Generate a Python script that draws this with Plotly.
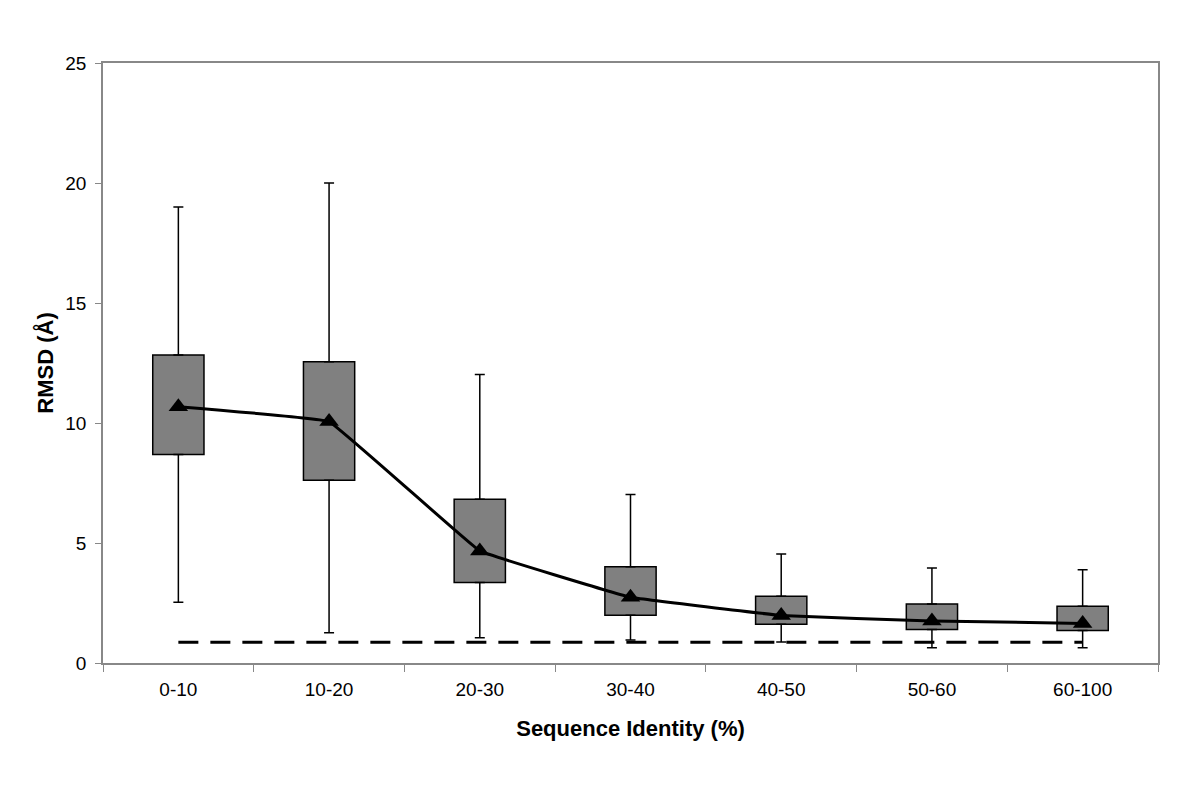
import plotly.graph_objects as go

categories = ["0-10", "10-20", "20-30", "30-40", "40-50", "50-60", "60-100"]
whisker_high = [19.0, 20.0, 12.02, 7.02, 4.54, 3.96, 3.89]
box_high = [12.83, 12.55, 6.82, 4.01, 2.78, 2.46, 2.36]
box_low = [8.69, 7.61, 3.35, 1.99, 1.61, 1.40, 1.35]
whisker_low = [2.53, 1.26, 1.05, 0.96, 0.875, 0.64, 0.64]
mean_rmsd = [10.68, 10.06, 4.67, 2.74, 1.98, 1.75, 1.65]
baseline_rmsd = 0.86

y_ticks = [0, 5, 10, 15, 20, 25]

font_family = "Liberation Sans, Arial, sans-serif"

fig = go.Figure()

# Boxes (open-close style) with upper whisker as error bar
fig.add_trace(go.Bar(
    x=categories,
    base=box_low,
    y=[h - l for h, l in zip(box_high, box_low)],
    width=0.34,
    marker=dict(color="#808080", line=dict(color="black", width=1.5)),
    error_y=dict(type="data", symmetric=False,
                 array=[w - h for w, h in zip(whisker_high, box_high)],
                 arrayminus=[0] * len(categories),
                 color="black", thickness=1.5, width=5),
    showlegend=False, hoverinfo="skip",
))

# Lower whiskers
fig.add_trace(go.Scatter(
    x=categories, y=box_low, mode="markers",
    marker=dict(size=1, color="rgba(0,0,0,0)"),
    error_y=dict(type="data", symmetric=False,
                 array=[0] * len(categories),
                 arrayminus=[b - w for b, w in zip(box_low, whisker_low)],
                 color="black", thickness=1.5, width=5),
    showlegend=False, hoverinfo="skip",
))

# Dashed baseline
fig.add_trace(go.Scatter(
    x=[categories[0], categories[-1]], y=[baseline_rmsd, baseline_rmsd],
    mode="lines", line=dict(color="black", width=3, dash="20px,12px"),
    showlegend=False, hoverinfo="skip",
))

# Mean line with triangles
fig.add_trace(go.Scatter(
    x=categories, y=mean_rmsd, mode="lines+markers",
    line=dict(color="black", width=3, shape="spline", smoothing=0.15),
    marker=dict(symbol="triangle-up", size=17, color="black"),
    showlegend=False,
))

fig.update_layout(
    width=1192, height=788,
    margin=dict(l=95, r=42, t=55, b=133),
    paper_bgcolor="white", plot_bgcolor="white",
    font=dict(family=font_family, color="black", size=19),
)

fig.update_xaxes(
    type="category", tickson="boundaries",
    ticks="outside", ticklen=7, tickcolor="#888888", tickwidth=1,
    showline=True, linecolor="#888888", linewidth=1.5, mirror=True,
    showgrid=False, zeroline=False,
    tickfont=dict(size=19, family=font_family),
    ticklabelstandoff=8,
    title=dict(text="<b>Sequence Identity (%)</b>", font=dict(size=22, family=font_family), standoff=22),
)

fig.update_yaxes(
    range=[0, 25], tickvals=y_ticks,
    ticks="outside", ticklen=6, tickcolor="#888888", tickwidth=1,
    showline=True, linecolor="#888888", linewidth=1.5, mirror=True,
    showgrid=False, zeroline=False,
    tickfont=dict(size=19, family=font_family),
    ticklabelstandoff=5,
    title=dict(text="<b>RMSD (Å)</b>", font=dict(size=22, family=font_family), standoff=6),
)

fig.write_html("out.html")
